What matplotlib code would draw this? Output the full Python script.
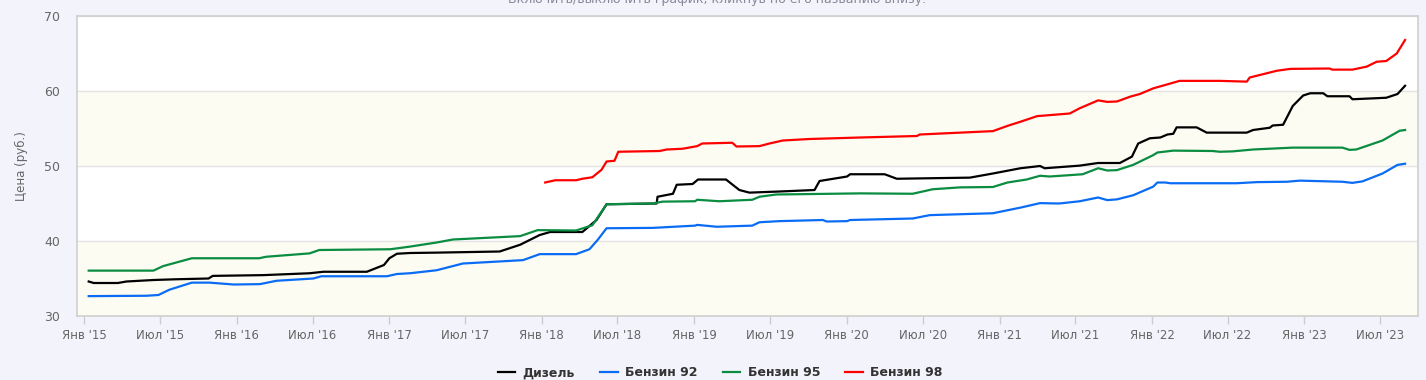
import pandas as pd
import matplotlib.pyplot as plt

diesel_dates = ['2015-01-12', '2015-01-24', '2015-03-23', '2015-04-12', '2015-06-16', '2015-08-10',
                '2015-10-26', '2015-11-05', '2016-03-05', '2016-06-24', '2016-07-27', '2016-11-08',
                '2016-12-19', '2017-01-01', '2017-01-19', '2017-02-19', '2017-04-24', '2017-09-22',
                '2017-11-10', '2017-12-27', '2018-01-21', '2018-04-08', '2018-05-12', '2018-06-05',
                '2018-10-03', '2018-10-05', '2018-11-11', '2018-11-20', '2018-12-28', '2019-01-10',
                '2019-03-18', '2019-04-19', '2019-05-13', '2019-07-24', '2019-10-16', '2019-10-28',
                '2020-01-02', '2020-01-09', '2020-04-01', '2020-04-30', '2020-10-22', '2020-12-16',
                '2021-02-20', '2021-04-08', '2021-04-19', '2021-07-12', '2021-08-25', '2021-10-16',
                '2021-11-14', '2021-11-29', '2021-12-27', '2022-01-21', '2022-02-07', '2022-02-21',
                '2022-03-01', '2022-04-18', '2022-05-12', '2022-08-16', '2022-08-31', '2022-10-10',
                '2022-10-17', '2022-11-11', '2022-12-04', '2022-12-29', '2023-01-15', '2023-02-15',
                '2023-02-25', '2023-04-19', '2023-04-26', '2023-06-06', '2023-07-16', '2023-08-12',
                '2023-08-30']
diesel = [34.6, 34.4, 34.4, 34.6, 34.8, 34.9, 35.0, 35.35, 35.45, 35.7, 35.9, 35.9,
          36.8, 37.7, 38.3, 38.4, 38.45, 38.6, 39.5, 40.8, 41.2, 41.2, 42.8, 44.9,
          45.0, 45.9, 46.3, 47.5, 47.6, 48.2, 48.2, 46.8, 46.45, 46.6, 46.8, 48.0,
          48.6, 48.9, 48.9, 48.3, 48.45, 49.0, 49.7, 50.0, 49.7, 50.05, 50.4, 50.4,
          51.25, 53.0, 53.7, 53.8, 54.2, 54.3, 55.15, 55.15, 54.45, 54.45, 54.8, 55.1,
          55.4, 55.5, 58.0, 59.4, 59.7, 59.7, 59.3, 59.3, 58.9, 59.0, 59.1, 59.6, 60.7]

ai92_dates = ['2015-01-12', '2015-05-30', '2015-06-28', '2015-07-24', '2015-09-16', '2015-10-28',
              '2015-12-25', '2016-02-26', '2016-04-06', '2016-07-03', '2016-07-22', '2016-12-26',
              '2017-01-19', '2017-02-19', '2017-04-24', '2017-06-26', '2017-11-17', '2017-12-27',
              '2018-03-24', '2018-04-25', '2018-05-14', '2018-06-05', '2018-09-24', '2019-01-03',
              '2019-01-08', '2019-02-24', '2019-05-20', '2019-06-06', '2019-07-24', '2019-11-05',
              '2019-11-14', '2020-01-02', '2020-01-09', '2020-06-07', '2020-07-18', '2020-12-16',
              '2021-01-20', '2021-02-20', '2021-04-08', '2021-05-24', '2021-07-12', '2021-08-25',
              '2021-09-16', '2021-10-09', '2021-11-17', '2022-01-04', '2022-01-14', '2022-02-02',
              '2022-02-14', '2022-07-22', '2022-09-09', '2022-11-20', '2022-12-21', '2023-04-02',
              '2023-04-26', '2023-05-20', '2023-07-07', '2023-08-12', '2023-08-30']
ai92 = [32.65, 32.7, 32.8, 33.5, 34.45, 34.45, 34.2, 34.25, 34.7, 35.0, 35.3, 35.3,
        35.6, 35.7, 36.1, 37.0, 37.45, 38.25, 38.25, 38.9, 40.1, 41.7, 41.75, 42.05,
        42.15, 41.9, 42.05, 42.5, 42.65, 42.8, 42.6, 42.65, 42.8, 43.0, 43.45, 43.7,
        44.1, 44.45, 45.05, 45.0, 45.3, 45.8, 45.45, 45.55, 46.1, 47.25, 47.8, 47.8,
        47.7, 47.7, 47.85, 47.9, 48.05, 47.9, 47.75, 47.95, 49.0, 50.15, 50.3]

ai95_dates = ['2015-01-12', '2015-06-16', '2015-07-09', '2015-09-16', '2016-02-24', '2016-03-12',
              '2016-06-24', '2016-07-17', '2017-01-03', '2017-02-19', '2017-04-24', '2017-06-02',
              '2017-11-10', '2017-12-22', '2018-03-24', '2018-05-02', '2018-06-05', '2018-09-24',
              '2018-10-17', '2019-01-03', '2019-01-08', '2019-03-02', '2019-05-20', '2019-06-06',
              '2019-07-16', '2020-02-02', '2020-06-07', '2020-07-01', '2020-07-25', '2020-09-28',
              '2020-12-16', '2021-01-20', '2021-03-07', '2021-04-08', '2021-05-01', '2021-07-19',
              '2021-08-25', '2021-09-16', '2021-10-09', '2021-11-17', '2022-01-04', '2022-01-14',
              '2022-02-21', '2022-05-26', '2022-06-12', '2022-07-13', '2022-08-31', '2022-12-04',
              '2023-04-02', '2023-04-19', '2023-05-05', '2023-07-07', '2023-08-17', '2023-08-30']
ai95 = [36.05, 36.05, 36.65, 37.7, 37.7, 37.9, 38.35, 38.8, 38.9, 39.25, 39.8, 40.2,
        40.65, 41.45, 41.4, 42.1, 44.9, 45.0, 45.25, 45.3, 45.5, 45.3, 45.5, 45.9,
        46.2, 46.35, 46.3, 46.6, 46.9, 47.15, 47.2, 47.8, 48.2, 48.7, 48.6, 48.9,
        49.7, 49.4, 49.45, 50.15, 51.45, 51.8, 52.05, 52.0, 51.9, 51.95, 52.2, 52.45,
        52.45, 52.15, 52.2, 53.4, 54.7, 54.8]

ai98_dates = ['2018-01-09', '2018-02-02', '2018-03-24', '2018-04-08', '2018-05-02', '2018-05-24',
              '2018-06-05', '2018-06-24', '2018-07-03', '2018-10-10', '2018-10-27', '2018-12-04',
              '2019-01-08', '2019-01-20', '2019-04-02', '2019-04-12', '2019-06-06', '2019-06-30',
              '2019-08-01', '2019-10-04', '2020-02-02', '2020-06-17', '2020-06-24', '2020-12-16',
              '2021-01-20', '2021-02-20', '2021-04-01', '2021-06-18', '2021-07-12', '2021-08-25',
              '2021-09-16', '2021-10-09', '2021-11-10', '2021-12-03', '2022-01-04', '2022-02-14',
              '2022-03-08', '2022-06-12', '2022-08-16', '2022-08-23', '2022-10-27', '2022-11-28',
              '2023-03-02', '2023-03-09', '2023-04-26', '2023-05-30', '2023-06-23', '2023-07-16',
              '2023-08-10', '2023-08-30']
ai98 = [47.8, 48.1, 48.1, 48.3, 48.5, 49.5, 50.6, 50.7, 51.9, 52.0, 52.2, 52.3,
        52.65, 53.0, 53.1, 52.6, 52.65, 53.0, 53.4, 53.6, 53.8, 54.0, 54.2, 54.65,
        55.35, 55.9, 56.65, 57.0, 57.7, 58.75, 58.55, 58.6, 59.25, 59.6, 60.35, 61.0,
        61.35, 61.35, 61.25, 61.8, 62.7, 62.95, 63.0, 62.85, 62.85, 63.25, 63.9, 64.0,
        65.0, 66.8]

series = [
    ('Дизель', diesel_dates, diesel, '#000000'),
    ('Бензин 92', ai92_dates, ai92, '#0a6cf5'),
    ('Бензин 95', ai95_dates, ai95, '#0a8c41'),
    ('Бензин 98', ai98_dates, ai98, '#ff0000'),
]

month_names = {1: 'Янв', 7: 'Июл'}
tick_dates = pd.date_range('2015-01-01', '2023-07-01', freq='6MS')
tick_labels = ["%s '%02d" % (month_names[d.month], d.year % 100) for d in tick_dates]

plt.rcParams['font.family'] = ['DejaVu Sans']

fig = plt.figure(figsize=(14.26, 3.8), dpi=100, facecolor='#f3f3fb')
ax = fig.add_axes([0.054, 0.1684, 0.9404, 0.7895])
ax.set_facecolor('white')

# alternating bands
for lo in (30, 50):
    ax.axhspan(lo, lo + 10, color='#fcfcf3', zorder=0)

for name, d, v, c in series:
    ax.plot(pd.to_datetime(d), v, color=c, lw=1.6, label=name, zorder=3)

ax.set_ylim(30, 70)
ax.set_xlim(pd.Timestamp('2014-12-15'), pd.Timestamp('2023-09-30'))
ax.set_yticks([30, 40, 50, 60, 70])
ax.grid(axis='y', color='#e4e4e4', lw=1, zorder=1)
ax.set_axisbelow(True)

ax.set_xticks(tick_dates)
ax.set_xticklabels(tick_labels)
ax.tick_params(axis='x', colors='#cccccc', labelcolor='#666666', labelsize=8.5,
               length=6, width=1, direction='out', pad=3)
ax.tick_params(axis='y', length=0, labelcolor='#666666', labelsize=9, pad=12)

for sp in ax.spines.values():
    sp.set_color('#d0d0d0')
    sp.set_linewidth(1.2)

ax.set_ylabel('Цена (руб.)', color='#666666', fontsize=8.5, labelpad=12)

leg = ax.legend(loc='upper center', bbox_to_anchor=(0.4795, -0.13), ncol=4, frameon=False,
                prop={'weight': 'bold', 'size': 9}, handlelength=1.4, handletextpad=0.6,
                columnspacing=2.0)
for t in leg.get_texts():
    t.set_color('#333333')

fig.text(0.503, 1 - 3 / 380, 'Включить/выключить график, кликнув по его названию внизу.',
         ha='center', va='baseline', fontsize=9, color='#888899')

fig.savefig('out.png', dpi=100, facecolor=fig.get_facecolor())
